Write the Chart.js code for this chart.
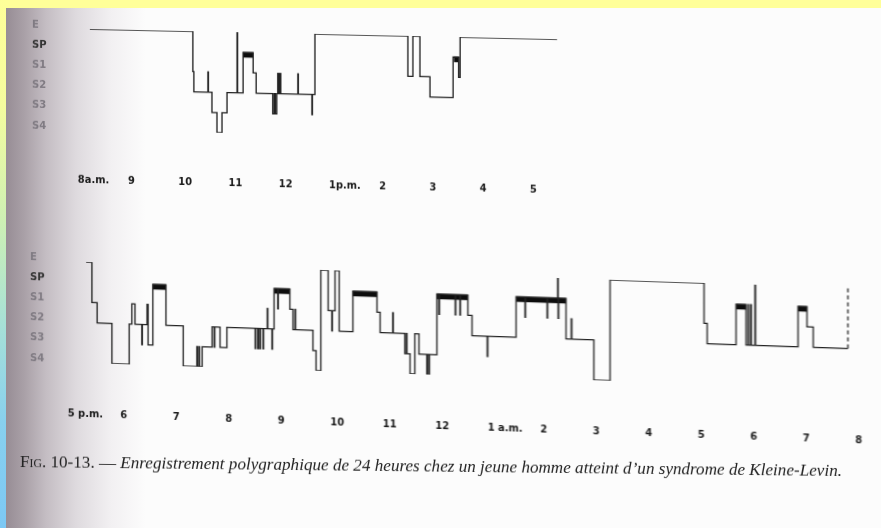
<!DOCTYPE html>
<html><head><meta charset="utf-8">
<script src="https://cdn.jsdelivr.net/npm/chart.js@4"></script>
<style>
html,body{margin:0;padding:0;}
body{width:881px;height:528px;overflow:hidden;position:relative;background:#fcfcfc;}
#page{position:absolute;left:6px;top:8px;right:0;bottom:0;background:linear-gradient(to right,#978d95 0px,#a9a0a7 18px,#c4bdc3 40px,#dedade 70px,#f2f0f2 105px,#fcfcfc 140px);}
#topbar{position:absolute;left:0;top:0;width:881px;height:8px;background:#ffff99;}
#leftbar{position:absolute;left:0;top:0;width:6px;height:528px;background:linear-gradient(#ffff99 0%,#f4fc9e 20%,#cdf0b4 42%,#a6e0d8 62%,#88d0ee 80%,#7cc8f4 100%);}
.wrap{position:absolute;left:0;width:881px;transform-origin:0 0;}
#w1{top:0;height:200px;transform:skewY(1.25deg);}
#w2{top:220px;height:220px;transform:skewY(1.95deg);}
#cap{position:absolute;left:20px;top:451px;white-space:nowrap;font-family:'Liberation Serif','Times New Roman',serif;font-size:17.5px;color:#222;transform-origin:0 50%;}
#cap .sc{font-variant:small-caps;font-style:normal;}
</style>
</head><body>
<div id="page"></div>
<div id="topbar"></div>
<div id="leftbar"></div>
<div class="wrap" id="w1"><canvas id="c1" width="881" height="200"></canvas></div>
<div class="wrap" id="w2"><canvas id="c2" width="881" height="220"></canvas></div>
<div id="cap"><span class="sc">Fig.</span> 10-13. — <i>Enregistrement polygraphique de 24 heures chez un jeune homme atteint d’un syndrome de Kleine-Levin.</i></div>
<script>
// Stage codes: 0=S4, 1=S3, 2=S2, 3=S1, 4=SP (sommeil paradoxal), 5=E (éveil)
const stageLabels = ['S4','S3','S2','S1','SP','E'];

// Top recording (8 a.m. – 5 p.m.), time in hours
const topHours = [8,9,10,11,12,13,14,15,16,17];
const topHourLabels = ['8a.m.','9','10','11','12','1p.m.','2','3','4','5'];
const topTimes = [8.24,10.29,10.31,10.59,10.60,10.67,10.77,10.87,10.97,11.17,11.18,11.29,11.49,11.55,11.88,11.91,11.93,11.96,11.98,12.00,12.02,12.04,12.38,12.39,12.66,12.67,12.72,14.57,14.67,14.81,15.01,15.47,15.58,15.61,17.54];
const topStages = [5,3,2,3,2,1,0,1,2,5,2,4,3,2,1,2,1,2,3,2,3,2,3,2,1,2,5,3,5,3,2,4,3,5,5];
const topRem = [[11.29,11.49],[15.49,15.58]];

// Bottom recording (5 p.m. – 8 a.m.), time in hours (24 = midnight)
const botHours = [17,18,19,20,21,22,23,24,25,26,27,28,29,30,31,32];
const botHourLabels = ['5 p.m.','6','7','8','9','10','11','12','1 a.m.','2','3','4','5','6','7','8'];
const botTimes = [17.35,17.46,17.56,17.84,18.17,18.22,18.28,18.41,18.42,18.51,18.53,18.62,18.87,19.20,19.46,19.47,19.50,19.51,19.56,19.75,19.79,19.80,19.90,20.03,20.57,20.58,20.62,20.63,20.66,20.67,20.72,20.73,20.80,20.81,20.89,20.90,20.93,21.00,21.01,21.23,21.29,21.33,21.34,21.67,21.73,21.82,21.96,22.03,22.04,22.09,22.17,22.43,22.89,22.95,23.19,23.20,23.42,23.45,23.46,23.52,23.61,23.69,23.84,23.85,23.88,23.89,24.03,24.07,24.08,24.38,24.39,24.47,24.48,24.62,24.70,24.99,25.00,25.54,25.71,25.72,26.13,26.14,26.33,26.34,26.35,26.49,26.59,26.60,27.02,27.33,29.12,29.18,29.73,29.92,29.96,29.97,30.01,30.02,30.09,30.10,30.91,31.08,31.20,31.86,31.86];
const botStages = [5,3,2,0,2,3,2,1,2,3,1,4,2,0,1,0,1,0,1,2,1,2,1,2,1,2,1,2,1,2,1,2,3,2,1,2,4,3,4,3,2,3,2,1,0,5,3,2,3,5,2,4,3,2,3,2,1,2,1,0,2,1,0,1,0,1,4,3,4,3,4,3,4,3,2,1,2,4,3,4,3,4,5,3,4,2,3,2,0,5,3,2,4,2,4,2,4,2,5,2,4,3,2,2,5];
const botRem = [[18.62,18.87],[20.93,21.23],[22.43,22.89],[24.03,24.62],[25.54,26.49],[29.73,29.92],[30.91,31.08]];

function remPoints(iv){
  const out=[];
  iv.forEach(([a,b])=>{out.push({x:a,y:4},{x:b,y:4},{x:b,y:null});});
  return out;
}

function build(id, cfg){
  const n = cfg.times.length;
  return new Chart(document.getElementById(id), {
    type:'line',
    data:{datasets:[
      {data: cfg.times.map((t,i)=>({x:t,y:cfg.stages[i]})), stepped:true,
       borderColor:'#222', borderWidth:1.35, pointRadius:0, fill:false, yAxisID:'y',
       segment:{borderDash: c => (cfg.dashedEnd && c.p1DataIndex===n-1) ? [4,3] : undefined}},
      {data: remPoints(cfg.rem), borderColor:'#0d0d0d', borderWidth:5.5, pointRadius:0, fill:false,
       spanGaps:false, yAxisID:'yr', borderCapStyle:'butt'}
    ]},
    options:{
      responsive:false, animation:false, events:[],
      layout:{padding:{left:cfg.padLeft, top:cfg.padTop, right:cfg.padRight, bottom:0}},
      plugins:{legend:{display:false}, tooltip:{enabled:false}},
      scales:{
        x:{type:'linear', min:cfg.xMin, max:cfg.xMax,
           grid:{display:false, drawTicks:false}, border:{display:false},
           afterBuildTicks:s=>{s.ticks=cfg.hours.map(v=>({value:v}));},
           afterFit:s=>{s.height=cfg.axisH; s.paddingLeft=0; s.paddingRight=0;},
           ticks:{align:'start', padding:cfg.tickPad, autoSkip:false, maxRotation:0,
             color:'#1a1a1a', font:{family:"'DejaVu Sans Condensed','DejaVu Sans',sans-serif", size:11, weight:'bold'},
             callback:v=>{const i=cfg.hours.indexOf(v); return i<0?'':cfg.hourLabels[i];}}},
        y:{type:'linear', display:false, min:0, max:5},
        yr:{type:'linear', display:false, min:0.12, max:5.12},
        yl:{type:'linear', position:'left', min:-0.15, max:4.85,
            grid:{display:false, drawTicks:false}, border:{display:false},
            afterBuildTicks:s=>{s.ticks=[0,1,2,3,4,5].map(v=>({value:v}));},
            afterFit:s=>{s.width=cfg.ylWidth;},
            ticks:{crossAlign:'far', padding:0, autoSkip:false,
              color:c=>(c.tick && c.tick.value===4)?'#333':'#7f7a82',
              font:{family:"'DejaVu Sans',sans-serif", size:10, weight:'bold'},
              callback:v=>stageLabels[v]}}
      }
    }
  });
}

build('c1', {times:topTimes, stages:topStages, rem:topRem, hours:topHours, hourLabels:topHourLabels,
  xMin:7.6, xMax:18.0, padLeft:32, ylWidth:25.725, padTop:27, padRight:300.675, axisH:72, tickPad:44, dashedEnd:false});
build('c2', {times:botTimes, stages:botStages, rem:botRem, hours:botHours, hourLabels:botHourLabels,
  xMin:16.9, xMax:32.3, padLeft:30, ylWidth:32.5, padTop:39, padRight:10, axisH:80, tickPad:45, dashedEnd:true});

const cap = document.getElementById('cap');
const w = cap.getBoundingClientRect().width;
cap.style.transform = 'rotate(0.63deg) scaleX(' + (822/w) + ')';
</script>
</body></html>
